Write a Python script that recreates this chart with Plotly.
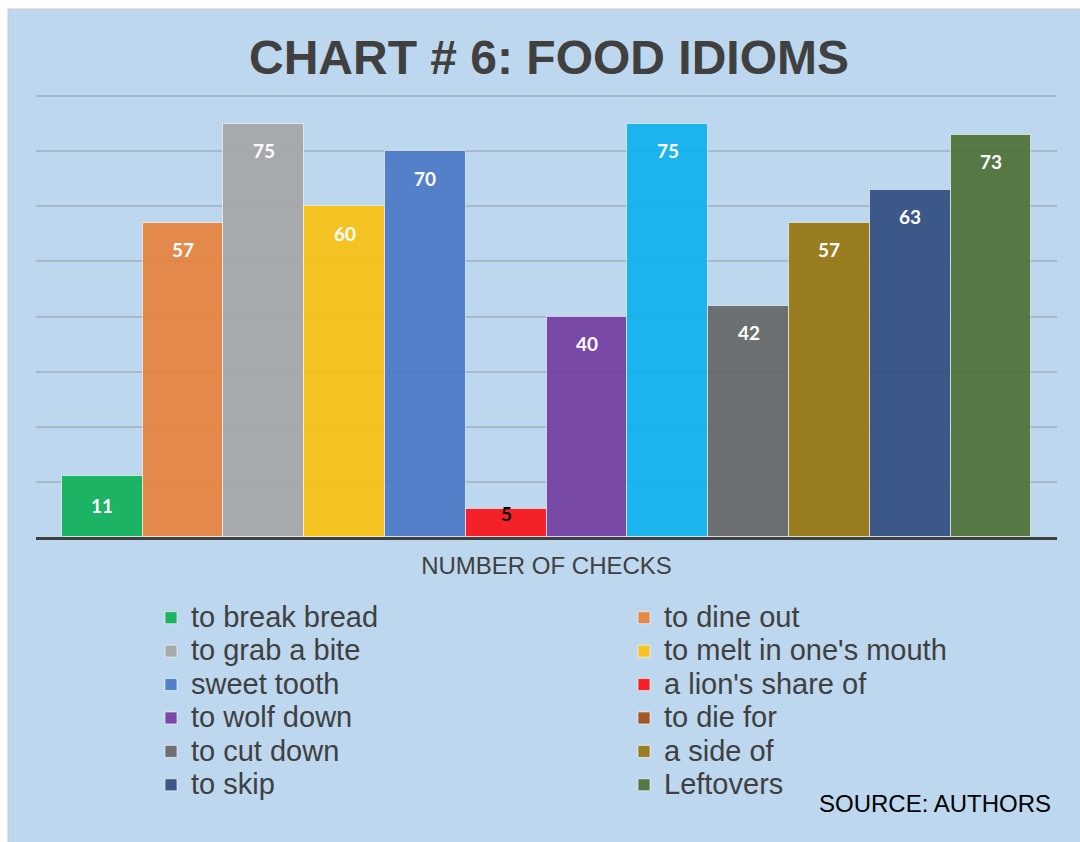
import plotly.graph_objects as go

# ---- data ----
idioms = ["to break bread", "to dine out", "to grab a bite", "to melt in one's mouth",
          "sweet tooth", "a lion's share of", "to wolf down", "to die for",
          "to cut down", "a side of", "to skip", "Leftovers"]
checks = [11, 57, 75, 60, 70, 5, 40, 75, 42, 57, 63, 73]

# ---- styles ----
bar_colors = ["#1DB364", "#E4894B", "#A7AAAD", "#F4C322", "#5480C9", "#F52128",
              "#7949A8", "#1CB4EE", "#6C7073", "#9B7D21", "#3C5888", "#557845"]
legend_colors = ["#1DB364", "#E4894B", "#A7AAAD", "#F4C322", "#5480C9", "#F52128",
                 "#7949A8", "#A0582A", "#6C7073", "#9B7D21", "#3C5888", "#557845"]
label_colors = ["white"] * 5 + ["black"] + ["white"] * 6
label_shift = [-29, -27, -27, -27, -27, -4, -27, -27, -27, -27, -27, -27]

BG = (189, 215, 238)
ALPHA = 0.88


def comp(hexcol, a=ALPHA):
    h = hexcol.lstrip("#")
    v = [int(h[i:i + 2], 16) for i in (0, 2, 4)]
    c = [max(0, min(255, round((v[k] - (1 - a) * BG[k]) / a))) for k in range(3)]
    return f"rgba({c[0]},{c[1]},{c[2]},{a})"


def legname(s):
    return f"<span style='font-size:29px'>{s}</span>"


W, H = 1080, 842
ML, MR, MT, MB = 36, 23, 95, 305
PW, PH = W - ML - MR, H - MT - MB

fig = go.Figure()
for i, (name, val) in enumerate(zip(idioms, checks)):
    same = bar_colors[i] == legend_colors[i]
    fig.add_trace(go.Bar(
        x=[name], y=[val], name=legname(name),
        marker=dict(color=comp(bar_colors[i]),
                    line=dict(color="rgba(255,255,255,0.6)", width=1)),
        showlegend=same, legendgroup=name,
        hovertemplate=f"{name}: %{{y}}<extra></extra>",
    ))
    if not same:
        fig.add_trace(go.Bar(
            x=[name], y=[None], name=legname(name),
            marker=dict(color=legend_colors[i],
                        line=dict(color="rgba(255,255,255,0.6)", width=1)),
            showlegend=True, legendgroup=name,
        ))

for i, (name, val) in enumerate(zip(idioms, checks)):
    fig.add_annotation(x=name, y=val, text=f"<b>{val}</b>", showarrow=False,
                       yanchor="middle", yshift=label_shift[i],
                       font=dict(family="Lato, Open Sans, sans-serif", size=19,
                                 color=label_colors[i]))

# blue panel
fig.add_shape(type="rect", xref="paper", yref="paper", layer="below",
              x0=(8 - ML) / PW, x1=(W + 5 - ML) / PW,
              y0=-(H + 5 - (MT + PH)) / PH, y1=(MT + PH - 9) / PH,
              fillcolor="#BDD7EE", line=dict(color="#C9C9C9", width=1))

fig.add_annotation(text="SOURCE: AUTHORS", xref="paper", yref="paper",
                   x=(1053 - ML) / PW, y=-(803 - (MT + PH)) / PH,
                   xanchor="right", yanchor="middle", showarrow=False,
                   font=dict(family="Liberation Sans, Arial, sans-serif", size=24, color="black"))

fig.update_layout(
    width=W, height=H,
    margin=dict(l=ML, r=MR, t=MT, b=MB, autoexpand=False),
    paper_bgcolor="white", plot_bgcolor="rgba(0,0,0,0)",
    barmode="overlay", bargap=0,
    title=dict(text="<b>CHART # 6: FOOD IDIOMS</b>", x=549 / W, xanchor="center",
               y=1 - 57 / H, yanchor="middle", yref="container",
               font=dict(family="Liberation Sans, Arial, sans-serif", size=48, color="#404040")),
    font=dict(family="Liberation Sans, Arial, sans-serif", color="#404040"),
    xaxis=dict(categoryorder="array", categoryarray=idioms,
               range=[-0.818, 11.818], showticklabels=False, ticks="",
               showgrid=False, zeroline=False,
               showline=True, linecolor="#404040", linewidth=3,
               title=dict(text="NUMBER OF CHECKS", standoff=19,
                          font=dict(size=24, color="#404040"))),
    yaxis=dict(range=[0, 80.2], dtick=10, showticklabels=False, ticks="",
               showgrid=True, gridcolor="#A8B9C9", gridwidth=2,
               zeroline=False, showline=False),
    legend=dict(orientation="h", x=(151 - ML) / PW, xanchor="left",
                y=-(596 - (MT + PH)) / PH, yanchor="top",
                entrywidth=428, entrywidthmode="pixels",
                bgcolor="rgba(0,0,0,0)", traceorder="normal",
                font=dict(family="Liberation Sans, Arial, sans-serif", size=23.4, color="#404040")),
    showlegend=True,
)

fig.write_html("out.html")
